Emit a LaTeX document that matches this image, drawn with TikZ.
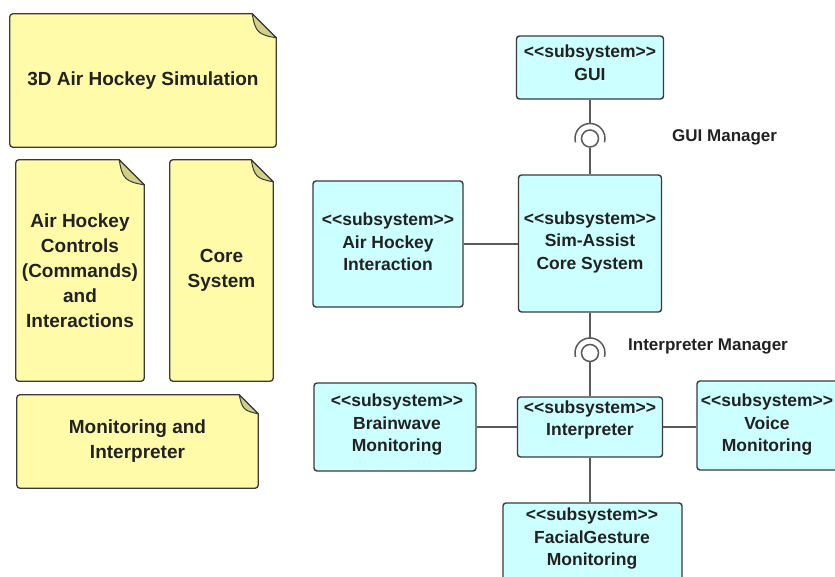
\documentclass[tikz,border=0pt]{standalone}
\usepackage{fontspec}
\setmainfont{Liberation Sans}[Ligatures=TeXOff]
\usetikzlibrary{calc,backgrounds}

\definecolor{notefill}{HTML}{FFFBA8}
\definecolor{notefold}{HTML}{D2CF88}
\definecolor{subfill}{HTML}{CCFFFF}
\definecolor{edgecol}{HTML}{3A3A3A}
\definecolor{wirecol}{HTML}{5A5A5A}
\definecolor{inkcol}{HTML}{222222}

% dog-eared note outline around a named node (#1), fold size #2
\newcommand\drawnote[2]{%
  \draw[noteline] ([yshift=-#2]#1.north east) [rounded corners=3pt]-- (#1.south east)
      -- (#1.south west) -- (#1.north west) [sharp corners]-- ([xshift=-#2]#1.north east) -- cycle;
  \draw[foldline] ([xshift=-#2]#1.north east)
      .. controls ([xshift=-#2+3pt,yshift=-0.75*#2]#1.north east)
      and ([xshift=-0.75*#2,yshift=-#2+3pt]#1.north east) .. ([yshift=-#2]#1.north east) -- cycle;
}

\begin{document}
\begin{tikzpicture}[x=1pt,y=-1pt,
  notebox/.style={rectangle, inner sep=0pt, align=center, text=inkcol,
    font=\fontsize{19}{25}\selectfont\bfseries},
  noteline/.style={fill=notefill, draw=edgecol, line width=1.3pt},
  foldline/.style={fill=notefold, draw=edgecol, line width=1pt, line join=round},
  subbox/.style={rectangle, draw=edgecol, line width=1.4pt, rounded corners=3pt,
    fill=subfill, inner sep=0pt},
  subtext/.style={align=center, inner sep=0pt, text=inkcol,
    font=\fontsize{17.5}{22.5}\selectfont\bfseries},
  wire/.style={draw=wirecol, line width=1.5pt},
  ball/.style={circle, draw=wirecol, line width=1.5pt, fill=white, minimum size=17pt, inner sep=0pt},
  iflabel/.style={anchor=west, inner sep=0pt, text=inkcol, font=\fontsize{17}{20}\selectfont\bfseries}]

\useasboundingbox (0,0) rectangle (835,576);
\clip (0,0) rectangle (835,576);

% ---- package notes ----
\node[notebox, minimum width=266pt, minimum height=133pt] (n1) at (143,80.5) {3D Air Hockey Simulation};
\node[notebox, minimum width=128pt, minimum height=221pt] (n2) at (80,270.5) {Air Hockey\\Controls\\(Commands)\\and\\Interactions};
\node[notebox, minimum width=103pt, minimum height=221pt] (n3) at (221.5,270.5) {Core\\System};
\node[notebox, minimum width=241pt, minimum height=93pt] (n4) at (137.5,441.5) {Monitoring and\\Interpreter};
\begin{scope}[on background layer]
  \fill[white] (0,0) rectangle (835,576);
  \drawnote{n1}{24pt}
  \drawnote{n2}{25pt}
  \drawnote{n3}{22pt}
  \drawnote{n4}{19pt}
\end{scope}

% ---- subsystem boxes ----
\node[subbox, minimum width=147pt, minimum height=63pt]  (gui)    at (590,67.5)  {};
\node[subbox, minimum width=143pt, minimum height=137pt] (core)   at (590,243.5) {};
\node[subbox, minimum width=150pt, minimum height=126pt] (ahi)    at (388,244)   {};
\node[subbox, minimum width=145pt, minimum height=60pt]  (interp) at (590,427)   {};
\node[subbox, minimum width=162pt, minimum height=88pt]  (brain)  at (395,427)   {};
\node[subbox, minimum width=152pt, minimum height=89pt]  (voice)  at (773,425.5) {};
\node[subbox, minimum width=179pt, minimum height=80pt]  (facial) at (592.5,543) {};

\node[subtext] (gui-t)    at (590,62.5)  {<<subsystem>>\\GUI};
\node[subtext] (core-t)   at (590,242)   {<<subsystem>>\\Sim-Assist\\Core System};
\node[subtext] (ahi-t)    at (388,242)   {<<subsystem>>\\Air Hockey\\Interaction};
\node[subtext] (interp-t) at (590,420)   {<<subsystem>>\\Interpreter};
\node[subtext] (brain-t)  at (397,425)   {<<subsystem>>\\Brainwave\\Monitoring};
\node[subtext] (voice-t)  at (767,425)   {<<subsystem>>\\Voice\\Monitoring};
\node[subtext] (facial-t) at (592,539)   {<<subsystem>>\\FacialGesture\\Monitoring};

% ---- provided/required interfaces ----
\coordinate (if1) at (590,138.5);
\coordinate (if2) at (590,353);
\node[ball] (ball1) at (if1) {};
\node[ball] (ball2) at (if2) {};
\draw[wire] ($(if1)+(165:15)$) arc[start angle=165, end angle=375, radius=15];
\draw[wire] ($(if2)+(165:15)$) arc[start angle=165, end angle=375, radius=15];
\coordinate (sock1) at ($(if1)+(0,-15)$);
\coordinate (sock2) at ($(if2)+(0,-15)$);
\draw[wire] (gui) -- (sock1);
\draw[wire] (ball1) -- (core);
\draw[wire] (core) -- (sock2);
\draw[wire] (ball2) -- (interp);

\node[iflabel] (lbl1) at (672,137) {GUI Manager};
\node[iflabel] (lbl2) at (628,346) {Interpreter Manager};

% ---- plain connectors ----
\draw[wire] (ahi) -- (ahi -| core.west);
\draw[wire] (interp) -- (brain);
\draw[wire] (interp) -- (interp -| voice.west);
\draw[wire] (interp.south) -- (interp.south |- facial.north);
\end{tikzpicture}
\end{document}
